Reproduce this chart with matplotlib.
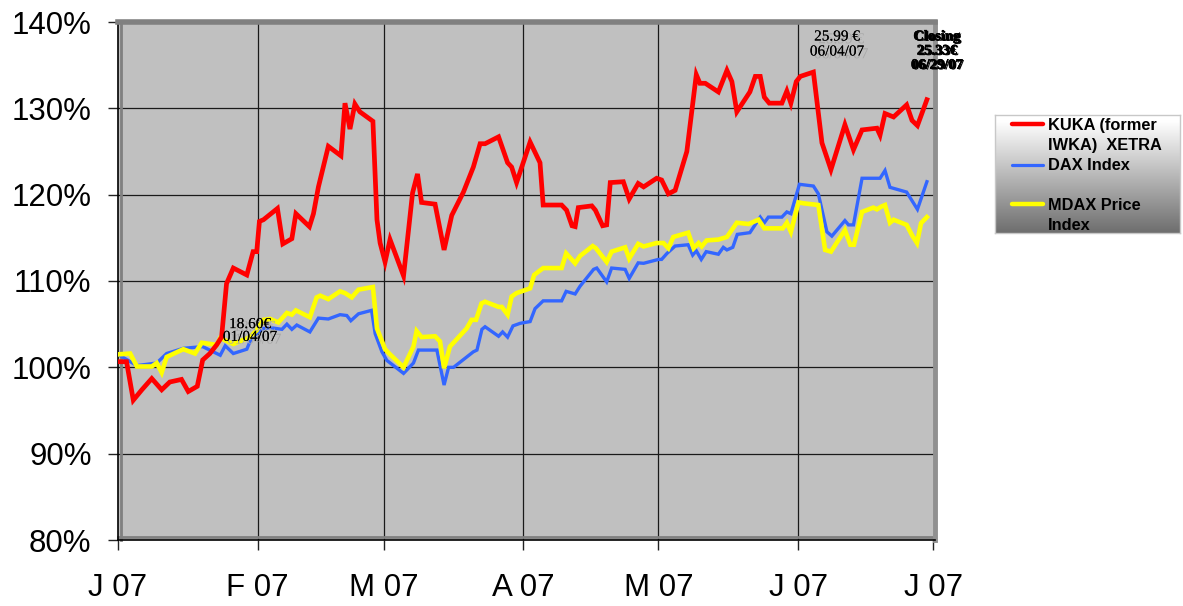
import matplotlib
matplotlib.use('Agg')
import matplotlib.pyplot as plt
import matplotlib.patheffects as pe
import numpy as np
import pandas as pd

# ---------------- data (days since 1 Jan 2007, indexed %) ----------------
month_labels = ['J 07', 'F 07', 'M 07', 'A 07', 'M 07', 'J 07', 'J 07']
y_ticks = [80, 90, 100, 110, 120, 130, 140]

kuka_days = [0.0, 1.9, 3.4, 5.3, 7.5, 9.7, 11.5, 14.1, 15.6, 17.6, 18.8, 20.4, 21.9, 23.0,
             24.1, 25.6, 28.6, 30.0, 30.8, 31.4, 32.3, 35.4, 36.6, 38.6, 39.5, 42.5, 43.4,
             44.5, 46.7, 49.5, 50.4, 51.5, 52.6, 53.7, 56.6, 57.5, 58.2, 59.3, 60.4, 63.4,
             65.4, 66.5, 67.4, 70.4, 72.4, 74.1, 76.7, 78.9, 80.4, 81.5, 84.5, 86.5, 87.4,
             88.5, 91.5, 93.7, 94.4, 98.5, 99.6, 100.8, 101.5, 102.2, 105.2, 106.0, 107.6,
             108.5, 109.3, 112.2, 113.5, 115.5, 116.7, 119.6, 120.7, 122.2, 123.7, 126.3,
             128.4, 129.2, 130.4, 133.3, 135.2, 136.3, 137.4, 140.3, 141.5, 142.6, 143.5,
             144.6, 147.4, 148.5, 149.4, 150.6, 151.5, 154.4, 156.3, 158.3, 161.4, 163.3,
             165.2, 168.5, 169.2, 170.3, 172.2, 175.1, 176.3, 177.5, 179.6]
kuka_vals = [100.65, 100.65, 96.2, 97.4, 98.7, 97.4, 98.3, 98.6, 97.2, 97.8, 100.85, 101.6,
             102.6, 103.5, 109.7, 111.5, 110.7, 113.4, 113.4, 116.9, 117.1, 118.4, 114.3,
             114.9, 117.8, 116.3, 117.8, 120.9, 125.6, 124.5, 130.6, 127.6, 130.5, 129.6,
             128.5, 117.1, 114.4, 112.2, 114.8, 110.6, 120.2, 122.4, 119.1, 118.9, 113.6,
             117.6, 120.3, 123.2, 125.9, 125.9, 126.7, 123.7, 123.2, 121.4, 126.1, 123.7,
             118.8, 118.8, 118.2, 116.4, 116.3, 118.5, 118.7, 118.2, 116.4, 116.5, 121.4,
             121.5, 119.5, 121.3, 120.9, 121.9, 121.7, 120.1, 120.5, 125.0, 133.9, 132.9,
             132.9, 131.9, 134.4, 133.1, 129.6, 131.9, 133.7, 133.7, 131.3, 130.6, 130.6,
             132.0, 130.6, 133.1, 133.7, 134.2, 126.0, 122.9, 128.1, 125.2, 127.5, 127.7,
             126.9, 129.4, 129.0, 130.4, 128.6, 128.0, 131.0]

dax_days = [0.0, 4.2, 8.6, 10.8, 14.5, 18.8, 22.7, 23.8, 25.6, 28.6, 29.7, 32.3, 33.8, 36.4,
            37.5, 38.6, 39.7, 42.6, 44.5, 46.7, 49.3, 50.8, 51.7, 53.4, 56.3, 57.1, 58.6,
            59.7, 63.4, 65.6, 66.7, 70.8, 72.4, 73.4, 74.5, 78.9, 79.7, 80.8, 81.5, 84.5,
            85.4, 86.5, 87.7, 89.3, 91.5, 92.6, 94.4, 98.5, 99.5, 101.5, 102.6, 105.6, 106.3,
            108.5, 109.6, 112.6, 113.5, 115.5, 116.7, 120.0, 120.7, 121.9, 123.7, 126.6,
            127.6, 128.4, 129.5, 130.6, 133.3, 134.4, 135.2, 136.5, 137.5, 140.3, 142.6,
            143.5, 144.4, 147.4, 148.5, 149.4, 151.3, 154.4, 155.5, 157.4, 158.5, 161.4,
            162.2, 163.3, 165.2, 169.2, 170.3, 171.4, 175.1, 177.5, 179.6]
dax_vals = [101.5, 100.2, 100.5, 101.6, 102.2, 102.4, 101.4, 102.5, 101.6, 102.1, 103.5, 104.5,
            104.6, 104.4, 105.0, 104.4, 104.9, 104.1, 105.7, 105.6, 106.1, 106.0, 105.4,
            106.2, 106.6, 103.9, 101.8, 100.8, 99.3, 100.5, 102.0, 102.0, 97.95, 100.0, 100.0,
            101.8, 102.0, 104.4, 104.7, 103.6, 104.1, 103.5, 104.8, 105.1, 105.3, 106.8,
            107.7, 107.7, 108.8, 108.5, 109.4, 111.35, 111.5, 109.9, 111.5, 111.35, 110.3,
            112.1, 112.05, 112.5, 112.5, 113.2, 114.05, 114.2, 113.0, 113.5, 112.5, 113.4,
            113.1, 113.9, 113.6, 113.9, 115.4, 115.6, 117.4, 116.75, 117.4, 117.4, 118.0,
            117.8, 121.2, 121.0, 120.1, 115.7, 115.2, 117.0, 116.5, 116.5, 121.9, 121.9,
            122.8, 120.85, 120.3, 118.3, 121.5]

mdax_days = [0.0, 2.7, 4.2, 7.5, 8.6, 9.7, 10.8, 14.5, 17.1, 18.6, 21.9, 22.7, 25.6, 29.3,
             30.8, 32.3, 33.8, 35.6, 37.5, 38.6, 39.5, 42.6, 44.1, 44.9, 46.7, 49.3, 50.4,
             51.9, 53.4, 56.6, 57.5, 59.3, 60.4, 63.4, 65.6, 66.3, 67.4, 70.4, 71.5, 72.4,
             73.7, 77.4, 78.5, 79.5, 80.7, 81.5, 84.5, 85.2, 86.5, 87.4, 88.5, 91.5, 92.4,
             94.4, 98.5, 99.5, 101.5, 102.6, 105.4, 106.1, 108.5, 109.6, 112.6, 113.5, 115.5,
             116.7, 119.6, 121.1, 122.2, 123.3, 126.6, 127.8, 128.9, 129.6, 130.7, 133.3,
             135.2, 137.4, 140.0, 142.2, 143.5, 147.6, 148.5, 149.4, 151.1, 152.2, 155.5,
             157.0, 158.3, 161.4, 162.6, 163.4, 165.2, 167.7, 168.5, 169.4, 170.3, 171.4,
             172.2, 175.1, 176.3, 177.4, 178.3, 179.6]
mdax_vals = [101.5, 101.6, 100.1, 100.1, 100.5, 99.4, 101.2, 102.1, 101.6, 102.85, 102.6,
             103.4, 102.7, 103.5, 104.3, 105.5, 105.6, 105.2, 106.3, 106.1, 106.6, 105.8,
             108.1, 108.3, 107.9, 108.8, 108.6, 108.1, 109.0, 109.3, 104.5, 102.1, 101.5,
             100.0, 102.4, 104.2, 103.5, 103.6, 103.0, 99.9, 102.4, 104.5, 105.5, 105.5,
             107.4, 107.6, 107.0, 107.0, 106.1, 108.2, 108.6, 109.15, 110.7, 111.5, 111.5,
             113.2, 112.05, 112.9, 114.05, 113.8, 112.2, 113.4, 113.9, 112.6, 114.3, 114.0,
             114.4, 114.4, 113.8, 115.1, 115.6, 113.8, 114.4, 114.0, 114.7, 114.8, 115.1,
             116.75, 116.6, 117.1, 116.1, 116.1, 116.75, 115.7, 119.1, 119.0, 118.8, 113.6,
             113.4, 115.9, 114.2, 114.2, 118.0, 118.5, 118.3, 118.6, 118.8, 116.75, 117.1,
             116.5, 115.3, 114.4, 116.7, 117.4]

series_colors = ['#FF0000', '#3366FF', '#FFFF00']

# ---------------- figure ----------------
W, H = 1183, 606
fig = plt.figure(figsize=(W / 100, H / 100), dpi=100)
fig.patch.set_facecolor('white')

def fx(x):
    return x / W

def fy(y):
    return 1 - y / H

ax = fig.add_axes([fx(118), fy(540), fx(935) - fx(118), fy(22) - fy(540)])
ax.set_facecolor('#C0C0C0')

month_starts = pd.date_range('2007-01-01', periods=7, freq='MS')
tick_days = (month_starts - month_starts[0]).days.values

ax.set_xlim(0, 181.4)
ax.set_ylim(80, 140)

for d in tick_days[1:-1]:
    ax.axvline(d, color='#1a1a1a', lw=0.9, zorder=1)
for v in y_ticks[1:-1]:
    ax.axhline(v, color='#1a1a1a', lw=0.9, zorder=1)

ax.plot(dax_days, dax_vals, color=series_colors[1], lw=2.4, zorder=3, solid_joinstyle='miter')
ax.plot(mdax_days, mdax_vals, color=series_colors[2], lw=3.3, zorder=4, solid_joinstyle='miter')
ax.plot(kuka_days, kuka_vals, color=series_colors[0], lw=3.4, zorder=5, solid_joinstyle='miter')

ax.set_xticks(tick_days)
ax.set_xticklabels(month_labels)
ax.set_yticks(y_ticks)
ax.set_yticklabels([f'{v}%' for v in y_ticks])
ax.tick_params(axis='both', direction='out', length=7, width=1, color='#222222',
               labelsize=22.5, pad=12)
ax.tick_params(axis='x', pad=17)
for lab in ax.get_xticklabels() + ax.get_yticklabels():
    lab.set_family('Liberation Sans')

# 3D-like frame
ax.spines['left'].set_color('black')
ax.spines['left'].set_linewidth(1.2)
ax.spines['bottom'].set_color('black')
ax.spines['bottom'].set_linewidth(1.2)
ax.spines['top'].set_color('#808080')
ax.spines['top'].set_linewidth(4.0)
ax.spines['right'].set_color('#909090')
ax.spines['right'].set_linewidth(3.5)
ax.plot([0.004, 0.004], [0, 1], transform=ax.transAxes, color='#808080', lw=2.0, zorder=2, clip_on=False)
ax.plot([0, 1], [0.006, 0.006], transform=ax.transAxes, color='#808080', lw=2.0, zorder=2, clip_on=False)

# ---------------- annotations ----------------
def shadow_text(x, y, s, size, weight='normal', ls=1.0, offset=(3, -2), shadow='#a8a8a8',
                stroke=0.0):
    effects = [pe.withSimplePatchShadow(offset=offset, shadow_rgbFace=shadow, alpha=1.0)]
    if stroke > 0:
        effects.append(pe.withStroke(linewidth=stroke, foreground='black'))
    else:
        effects.append(pe.Normal())
    fig.text(fx(x), fy(y), s, ha='center', va='center', fontsize=size, linespacing=ls,
             family='Liberation Serif', weight=weight, color='black', zorder=11,
             multialignment='center', path_effects=effects)

shadow_text(837, 44.5, '25.99 €\n06/04/07', 11, ls=1.2)
shadow_text(250, 331, '18.60€\n01/04/07', 11, ls=0.98)
shadow_text(937, 51, 'Closing\n25.33€\n06/29/07', 10.5, weight='bold', ls=1.13,
            offset=(1, -0.5), shadow='black', stroke=0.3)

# ---------------- legend ----------------
lx0, ly0, lx1, ly1 = 995, 115, 1180, 233
lax = fig.add_axes([fx(lx0), fy(ly1), fx(lx1) - fx(lx0), fy(ly0) - fy(ly1)])
grad = np.linspace(0, 1, 256)
shade = np.clip((grad - 0.05) / 0.95, 0, 1)
top_c = np.array([1.0, 1.0, 1.0])
bot_c = np.array([0.43, 0.43, 0.43])
img = (top_c[None, :] * (1 - shade[:, None]) + bot_c[None, :] * shade[:, None])
img = np.repeat(img[:, None, :], 2, axis=1)
lax.imshow(img, extent=[0, 1, 0, 1], aspect='auto', origin='upper')
lax.set_xlim(0, 1)
lax.set_ylim(0, 1)
lax.set_xticks([])
lax.set_yticks([])
for sp in lax.spines.values():
    sp.set_color('#c8c8c8')
    sp.set_linewidth(1.0)

def ly(y):
    return 1 - (y - ly0) / (ly1 - ly0)

def lxp(x):
    return (x - lx0) / (lx1 - lx0)

sample_y = [123.5, 165, 204]
sample_lw = [3.2, 2.3, 3.2]
for yy, c, lw in zip(sample_y, series_colors, sample_lw):
    lax.plot([lxp(1012), lxp(1043)], [ly(yy), ly(yy)], color=c, lw=lw, solid_capstyle='round')

text_rows = [(125.5, 'KUKA (former'), (145.5, 'IWKA)  XETRA'), (166, 'DAX Index'),
             (205.5, 'MDAX Price'), (225.5, 'Index')]
for yy, s in text_rows:
    lax.text(lxp(1048), ly(yy), s, ha='left', va='center', fontsize=11.8,
             weight='bold', family='Liberation Sans', color='black')

fig.savefig('out.png', dpi=100, facecolor='white')
